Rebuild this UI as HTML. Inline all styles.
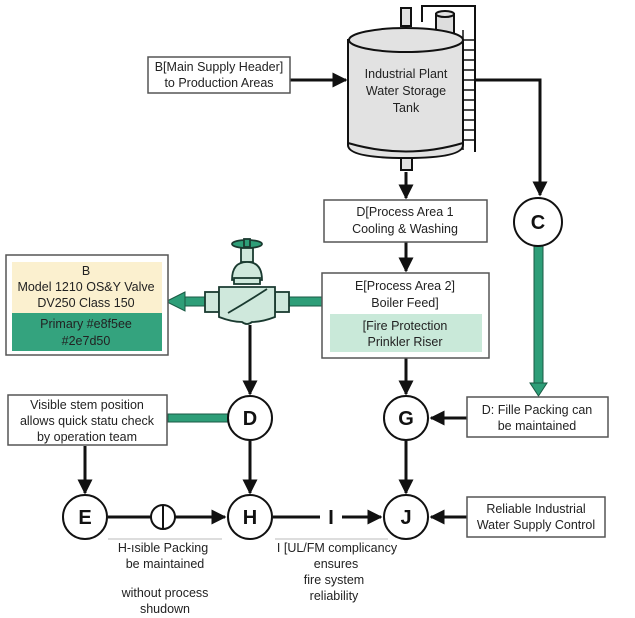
<!DOCTYPE html>
<html><head><meta charset="utf-8"><style>
html,body{margin:0;padding:0;background:#fff;}
svg{display:block;font-family:"Liberation Sans",sans-serif;}
</style></head><body>
<svg width="635" height="618" viewBox="0 0 635 618" xmlns="http://www.w3.org/2000/svg">
<defs>
<marker id="a" viewBox="0 0 10 10" refX="9" refY="5" markerWidth="5" markerHeight="5" orient="auto"><path d="M0,0L10,5L0,10z" fill="#111"/></marker>
<marker id="g" viewBox="0 0 10 10" refX="9" refY="5" markerWidth="3.2" markerHeight="3.2" orient="auto"><path d="M0,0L10,5L0,10z" fill="#2e9e78" stroke="#1a5a44" stroke-width="0.8"/></marker>
</defs>
<g stroke="#111" stroke-width="3" fill="none">
<line x1="290" y1="80" x2="346" y2="80" marker-end="url(#a)"/>
<polyline points="475,80 540,80 540,195" marker-end="url(#a)"/>
<line x1="406" y1="172" x2="406" y2="198" marker-end="url(#a)"/>
<line x1="406" y1="242" x2="406" y2="271" marker-end="url(#a)"/>
<line x1="250" y1="325" x2="250" y2="394" marker-end="url(#a)"/>
<line x1="406" y1="358" x2="406" y2="394" marker-end="url(#a)"/>
<line x1="467" y1="418" x2="431" y2="418" marker-end="url(#a)"/>
<line x1="85" y1="446" x2="85" y2="493" marker-end="url(#a)"/>
<line x1="250" y1="441" x2="250" y2="493" marker-end="url(#a)"/>
<line x1="406" y1="441" x2="406" y2="493" marker-end="url(#a)"/>
<line x1="108" y1="517" x2="225" y2="517" marker-end="url(#a)"/>
<line x1="273" y1="517" x2="320" y2="517"/>
<line x1="342" y1="517" x2="381" y2="517" marker-end="url(#a)"/>
<line x1="467" y1="517" x2="431" y2="517" marker-end="url(#a)"/>
</g>
<!-- green pipes -->
<g stroke="#1a5a44" stroke-width="1">
<rect x="534" y="246" width="9" height="140" fill="#2e9e78"/>
<rect x="168" y="414" width="60" height="8" fill="#2e9e78"/>
<rect x="280" y="297" width="42" height="9" fill="#2e9e78"/>
<rect x="185" y="297" width="35" height="9" fill="#2e9e78"/>
</g>
<path d="M530,383 L547,383 L538.5,396z" fill="#2e9e78" stroke="#1a5a44"/>
<path d="M185,292 L166,301.5 L185,311z" fill="#2e9e78" stroke="#1a5a44"/>
<!-- tank -->
<g stroke="#111" stroke-width="2" fill="#e2e2e2">
<path d="M422,22 L422,6 L475,6 L475,152" fill="none"/>
<rect x="436" y="14" width="18" height="20" fill="#ddd"/>
<ellipse cx="445" cy="14" rx="9" ry="3"/>
<rect x="401" y="8" width="10" height="18"/>
<path d="M348,40 L348,145 Q348,158 406,158 Q463,158 463,145 L463,40z"/>
<ellipse cx="406" cy="40" rx="57" ry="12"/>
<path d="M348,143 Q406,160 463,143" fill="none"/>
<rect x="401" y="158" width="11" height="12"/>
</g>
<g stroke="#111" stroke-width="1.5">
<line x1="463" y1="30" x2="463" y2="150"/>
<line x1="475" y1="30" x2="475" y2="150"/>
<line x1="463" y1="40" x2="475" y2="40"/><line x1="463" y1="50" x2="475" y2="50"/><line x1="463" y1="60" x2="475" y2="60"/><line x1="463" y1="70" x2="475" y2="70"/><line x1="463" y1="80" x2="475" y2="80"/><line x1="463" y1="90" x2="475" y2="90"/><line x1="463" y1="100" x2="475" y2="100"/><line x1="463" y1="110" x2="475" y2="110"/><line x1="463" y1="120" x2="475" y2="120"/><line x1="463" y1="130" x2="475" y2="130"/><line x1="463" y1="140" x2="475" y2="140"/>
</g>
<g font-size="12.5" text-anchor="middle" fill="#222">
<text x="406" y="78">Industrial Plant</text><text x="406" y="95">Water Storage</text><text x="406" y="112">Tank</text>
</g>
<!-- valve -->
<g stroke="#1a3a30" stroke-width="1.8" fill="#cfe8dc">
<ellipse cx="247" cy="244" rx="15" ry="4" fill="#2e9e78"/>
<rect x="244" y="239" width="6" height="8" fill="#2e9e78"/>
<rect x="241" y="248" width="12" height="14"/>
<path d="M232,280 Q232,262 247,262 Q262,262 262,280z"/>
<rect x="234" y="278" width="26" height="6"/>
<rect x="205" y="292" width="14" height="20"/>
<rect x="275" y="292" width="14" height="20"/>
<path d="M219,287 L275,287 L275,317 Q262,322 252,322 Q247,326 242,322 Q232,322 219,317z"/>
<path d="M228,313 Q247,302 267,289" fill="none"/>
</g>
<g stroke="#555" stroke-width="1.5" fill="#fff">
<rect x="148" y="57" width="142" height="36"/>
<rect x="324" y="200" width="163" height="42"/>
<rect x="322" y="273" width="167" height="85"/>
<rect x="6" y="255" width="162" height="100"/>
<rect x="8" y="395" width="159" height="50"/>
<rect x="467" y="397" width="141" height="40"/>
<rect x="467" y="497" width="138" height="40"/>
</g>
<rect x="330" y="314" width="152" height="38" fill="#c9e9d9"/>
<rect x="12" y="262" width="150" height="51" fill="#fbf0cf"/>
<rect x="12" y="313" width="150" height="38" fill="#34a37e"/>
<g fill="#fff" stroke="#111" stroke-width="2">
<circle cx="538" cy="222" r="24"/>
<circle cx="250" cy="418" r="22"/>
<circle cx="406" cy="418" r="22"/>
<circle cx="85" cy="517" r="22"/>
<circle cx="250" cy="517" r="22"/>
<circle cx="406" cy="517" r="22"/>
<circle cx="163" cy="517" r="12"/>
</g>
<line x1="163" y1="505" x2="163" y2="529" stroke="#111" stroke-width="2"/>
<g font-size="20" font-weight="bold" text-anchor="middle" fill="#111">
<text x="538" y="229">C</text><text x="250" y="425">D</text><text x="406" y="425">G</text>
<text x="85" y="524">E</text><text x="250" y="524">H</text><text x="406" y="524">J</text>
<text x="331" y="524">I</text>
</g>
<g font-size="12.5" text-anchor="middle" fill="#222">
<text x="219" y="71">B[Main Supply Header]</text><text x="219" y="87">to Production Areas</text>
<text x="405" y="216">D[Process Area 1</text><text x="405" y="233">Cooling &amp; Washing</text>
<text x="405" y="290">E[Process Area 2]</text><text x="405" y="307">Boiler Feed]</text>
<text x="405" y="330">[Fire Protection</text><text x="405" y="346">Prinkler Riser</text>
<text x="86" y="275">B</text><text x="86" y="291">Model 1210 OS&amp;Y Valve</text><text x="86" y="307">DV250 Class 150</text>
<text x="86" y="328">Primary #e8f5ee</text><text x="86" y="345">#2e7d50</text>
<text x="87" y="409">Visible stem position</text><text x="87" y="425">allows quick statu check</text><text x="87" y="441">by operation team</text>
<text x="537" y="414">D: Fille Packing can</text><text x="537" y="430">be maintained</text>
<text x="536" y="513">Reliable Industrial</text><text x="536" y="529">Water Supply Control</text>
<text x="163" y="552">H-ısible Packing</text><text x="165" y="568">be maintained</text>
<text x="165" y="597">without process</text><text x="165" y="613">shudown</text>
<text x="337" y="552">I  [UL/FM complicancy</text><text x="336" y="568">ensures</text>
<text x="334" y="584">fire system</text><text x="334" y="600">reliability</text>
</g>
<g stroke="#bbb" stroke-width="1"><line x1="108" y1="539" x2="222" y2="539"/><line x1="275" y1="539" x2="388" y2="539"/></g>
</svg>
</body></html>
